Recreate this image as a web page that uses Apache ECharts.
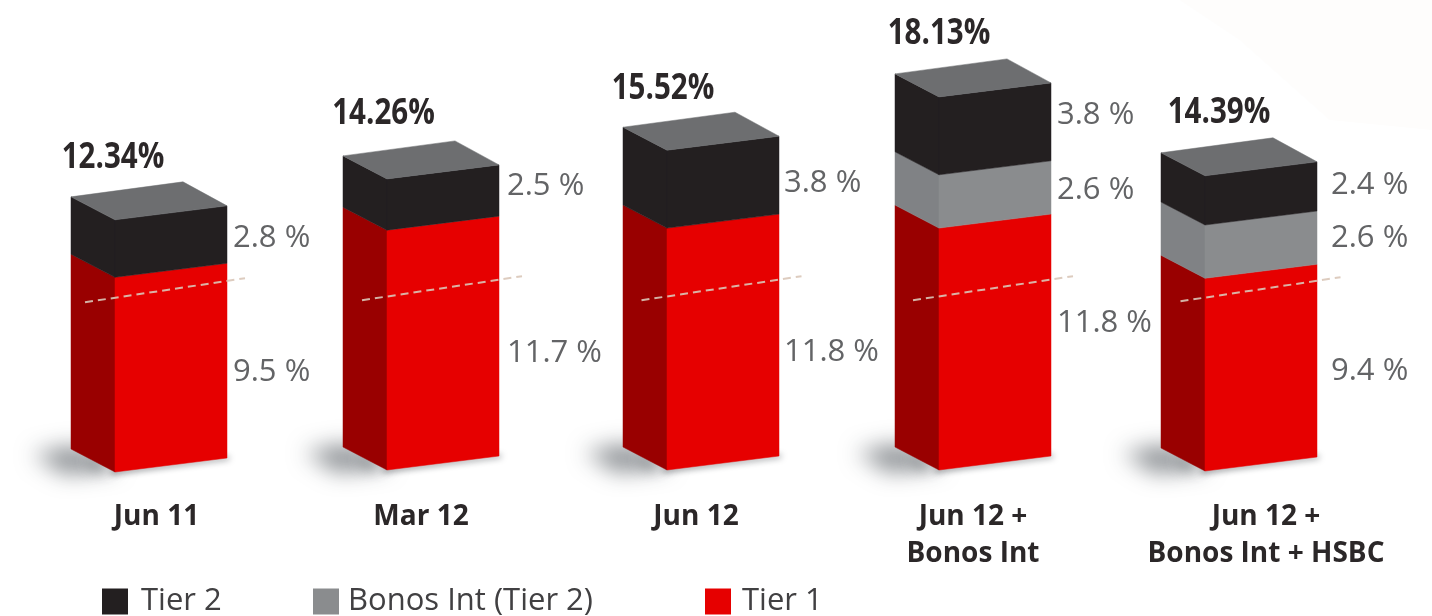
<!DOCTYPE html>
<html>
<head>
<meta charset="utf-8">
<style>html,body{margin:0;padding:0;background:#fff}#c{width:1432px;height:616px}</style>
<script src="https://cdn.jsdelivr.net/npm/echarts@6/dist/echarts.min.js"></script>
</head>
<body>
<div id="c"></div>
<script>
// ---- data ----
const categories = ['Jun 11', 'Mar 12', 'Jun 12', 'Jun 12 +\nBonos Int', 'Jun 12 +\nBonos Int + HSBC'];
const tier1 = [9.5, 11.7, 11.8, 11.8, 9.4];
const bonosInt = [0, 0, 0, 2.6, 2.6];
const tier2 = [2.8, 2.5, 3.8, 3.8, 2.4];
const totals = ['12.34%', '14.26%', '15.52%', '18.13%', '14.39%'];
const thresholdLevel = 8.5;

// ---- layout (pixel nudges, separate from the data) ----
const barShiftX = [0, -0.5, 7, 6.5, 0];
const barShiftY = [1, -1, -1, -1, 0];
const catPad = [[0,29,0,0],[0,45,0,0],[0,40,0,0],[0,31,0,0],[0,0,0,10]];
const totalNudge = [[-2,4],[-3.5,1],[-4,5],[0,3],[14,3]];
const valueShiftX = [0, 2, -1, 0, 8];
const thresholdShiftX = [0, 5, 4.5, 4, 5.5];
const nudgeTier1 = [12, 17, 17, -12, 11];
const nudgeBonos = [3, 3, 3, 3, 0.5];
const nudgeTier2 = [3.5, -4.5, 8.5, -6.5, -1.5];
const HALF = 56, DX = 44, DY = 23, SKEW = 14;
const FS_VALUE = 31, FS_TOTAL = 36, TOTAL_SQUEEZE = 0.82;
const OFFSCREEN = 3000;
const C = {black:'#231f20', gray:'#8a8c8e', graySide:'#808285', red:'#e60000', redSide:'#990000', top:'#6d6e70', text:'#636466', dark:'#2b2728'};

const lowsBonos = tier1;
const lowsTier2 = tier1.map((v, i) => v + bonosInt[i]);

function poly(points, fill) {
  return {type:'polygon', shape:{points}, style:{fill, stroke:fill, lineWidth:0.5}};
}
function blockRenderer(front, side, nudges, withTop) {
  return function (params, api) {
    const i = api.value(0), low = api.value(1), high = api.value(2);
    if (high <= low) return null;
    const cx = api.coord([i, 0])[0] + barShiftX[i];
    const y0 = api.coord([i, low])[1] + barShiftY[i];
    const y1 = api.coord([i, high])[1] + barShiftY[i];
    const l = cx - HALF, r = cx + HALF;
    const children = [
      poly([[l-DX,y0-DY],[l,y0],[l,y1],[l-DX,y1-DY]], side),
      poly([[l,y0],[r,y0-SKEW],[r,y1-SKEW],[l,y1]], front),
      {type:'text', style:{text:(high-low).toFixed(1)+' %', x:r+6+valueShiftX[i], y:(y0+y1)/2-SKEW+nudges[i],
        font:'400 '+FS_VALUE+'px "Open Sans"', fill:C.text, align:'left', verticalAlign:'middle'}}
    ];
    if (withTop) {
      children.push(poly([[l,y1],[r,y1-SKEW],[r-DX,y1-SKEW-DY-1],[l-DX,y1-DY]], C.top));
      children.push({type:'text', x:l+totalNudge[i][0], y:y1-66+totalNudge[i][1], scaleX:TOTAL_SQUEEZE,
        style:{text:totals[i], x:0, y:0,
        font:'700 '+FS_TOTAL+'px "Open Sans"', fill:C.dark, align:'center', verticalAlign:'middle'}});
    }
    return {type:'group', children};
  };
}
function shadowRenderer(params, api) {
  const i = api.value(0);
  const cx = api.coord([i, 0])[0] + barShiftX[i];
  const y0 = api.coord([i, 0])[1] + barShiftY[i];
  const l = cx - HALF, r = cx + HALF;
  const S = OFFSCREEN;
  return {type:'group', children:[
    // soft ground shadow: only the blurred shadow of an off-canvas shape is visible
    {type:'polygon', shape:{points:[[l-82-S,y0-18],[l-40-S,y0-26],[l+4-S,y0-4],[l-50-S,y0+2]]},
     style:{fill:'#777', shadowBlur:22, shadowColor:'rgba(125,130,134,0.9)', shadowOffsetX:S}},
    {type:'polygon', shape:{points:[[l-30-S,y0-14],[l-S,y0-3],[l-22-S,y0-3]]},
     style:{fill:'#555', shadowBlur:14, shadowColor:'rgba(70,76,80,0.8)', shadowOffsetX:S}},
    {type:'polygon', shape:{points:[[l-4-S,y0-1],[r+2-S,y0-SKEW-1],[r+2-S,y0-SKEW+1],[l-4-S,y0+2]]},
     style:{fill:'#555', shadowBlur:6, shadowColor:'rgba(70,75,80,0.95)', shadowOffsetX:S}}
  ]};
}
function thresholdRenderer(params, api) {
  const i = api.value(0), level = api.value(1);
  const cx = api.coord([i, 0])[0] + barShiftX[i];
  const y = api.coord([i, level])[1] + barShiftY[i];
  const l = cx - HALF + thresholdShiftX[i];
  return {type:'group', children:[
    {type:'line', shape:{x1:l-30, y1:y+4.5, x2:l+130, y2:y-19.5},
     style:{stroke:'#d9c6b8', lineWidth:2, lineDash:[8,5], opacity:0.9}}
  ]};
}
const idx = categories.map((_, i) => i);

const chart = echarts.init(document.getElementById('c'), null, {renderer:'canvas', width:1432, height:616});
chart.setOption({
  animation:false,
  backgroundColor:'#ffffff',
  graphic:[{type:'polygon', silent:true, z:-1, shape:{points:[[1180,0],[1432,0],[1432,130],[1330,120],[1240,40]]}, style:{fill:'#fefdfc'}}],
  grid:{left:34.75, width:1362.5, top:20, height:451},
  xAxis:{type:'category', data:categories.map((c,i)=>({value:c, textStyle:{padding:catPad[i]}})),
    axisLine:{show:false}, axisTick:{show:false},
    axisLabel:{interval:0, margin:28, fontFamily:'"Open Sans"', fontWeight:700, fontSize:28, lineHeight:37, color:C.dark}},
  yAxis:{type:'value', min:0, max:22, show:false},
  legend:[
    {data:['Tier 2'], left:102, top:586, pad:8},
    {data:['Bonos Int (Tier 2)'], left:313, top:586, pad:4},
    {data:['Tier 1'], left:705, top:586, pad:6}
  ].map(o=>({data:o.data, left:o.left, top:o.top, icon:'rect', itemWidth:26, itemHeight:26, padding:0, selectedMode:false,
     textStyle:{fontFamily:'"Open Sans"', fontSize:31, color:'#414042', padding:[0,0,0,o.pad]}})),
  series:[
    {name:'Ground', type:'custom', silent:true, z:1, renderItem:shadowRenderer, data:idx.map(i=>[i,0]), encode:{x:0,y:1}},
    {name:'Tier 1', type:'custom', z:2, itemStyle:{color:C.red}, renderItem:blockRenderer(C.red,C.redSide,nudgeTier1,false),
     data:idx.map(i=>[i,0,tier1[i]]), encode:{x:0,y:2}},
    {name:'Bonos Int (Tier 2)', type:'custom', z:2, itemStyle:{color:C.gray}, renderItem:blockRenderer(C.gray,C.graySide,nudgeBonos,false),
     data:idx.map(i=>[i,lowsBonos[i],lowsBonos[i]+bonosInt[i]]), encode:{x:0,y:2}},
    {name:'Tier 2', type:'custom', z:2, itemStyle:{color:C.black}, renderItem:blockRenderer(C.black,C.black,nudgeTier2,true),
     data:idx.map(i=>[i,lowsTier2[i],lowsTier2[i]+tier2[i]]), encode:{x:0,y:2}},
    {name:'Threshold', type:'custom', silent:true, z:3, renderItem:thresholdRenderer, data:idx.map(i=>[i,thresholdLevel]), encode:{x:0,y:1}}
  ]
});
</script>
</body>
</html>
